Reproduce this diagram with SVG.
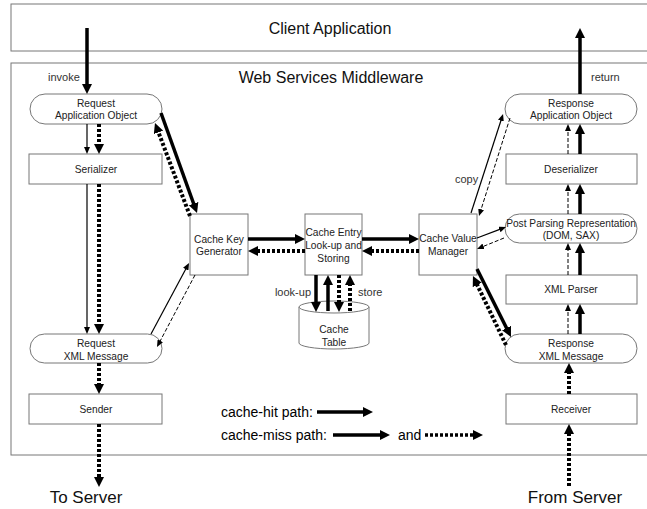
<svg xmlns="http://www.w3.org/2000/svg" width="647" height="509" viewBox="0 0 647 509">
<style>
.frame{fill:#fff;stroke:#777;stroke-width:1}
.box{fill:#fff;stroke:#777;stroke-width:1}
.t{font-family:"Liberation Sans",Arial,sans-serif;font-size:10.2px;fill:#222;text-anchor:middle}
.big{font-family:"Liberation Sans",Arial,sans-serif;font-size:16px;fill:#111;text-anchor:middle}
.lbl{font-family:"Liberation Sans",Arial,sans-serif;font-size:11px;fill:#333}
.leg{font-family:"Liberation Sans",Arial,sans-serif;font-size:14px;fill:#000}
.thick{fill:none;stroke:#000;stroke-width:3.5;marker-end:url(#hd)}
.dot{fill:none;stroke:#000;stroke-width:4;stroke-dasharray:3 2;marker-end:url(#hd)}
.thin{fill:none;stroke:#000;stroke-width:1.2;marker-end:url(#hs)}
.dash{fill:none;stroke:#000;stroke-width:1;stroke-dasharray:4 2;marker-end:url(#hs)}
</style>
<defs>
<marker id="hd" markerUnits="userSpaceOnUse" markerWidth="10" markerHeight="10" refX="2" refY="5" orient="auto" viewBox="0 0 10 10"><path d="M0,0 L10,5 L0,10 z" fill="#000"/></marker>
<marker id="hs" markerUnits="userSpaceOnUse" markerWidth="7" markerHeight="6" refX="1" refY="3" orient="auto" viewBox="0 0 7 6"><path d="M0,0 L7,3 L0,6 z" fill="#000"/></marker>
</defs>
<rect width="647" height="509" fill="#fff"/>

<g id="client">
<rect class="frame" x="11" y="4" width="645" height="47"/>
<text class="big" x="330" y="34">Client Application</text>
</g>
<g id="middleware">
<rect class="frame" x="11" y="63" width="645" height="392"/>
<text class="big" x="331" y="83">Web Services Middleware</text>
</g>

<g id="req-app-obj">
<rect class="box" x="30" y="94" width="132" height="30" rx="15" ry="15"/>
<text class="t" x="96" y="106.5">Request</text>
<text class="t" x="96" y="118.5">Application Object</text>
</g>
<g id="serializer">
<rect class="box" x="29" y="154" width="133" height="30"/>
<text class="t" x="96" y="172.5">Serializer</text>
</g>
<g id="req-xml-msg">
<rect class="box" x="30" y="334" width="132" height="29" rx="14.5" ry="14.5"/>
<text class="t" x="96" y="346.5">Request</text>
<text class="t" x="96" y="359.5">XML Message</text>
</g>
<g id="sender">
<rect class="box" x="29" y="394" width="133" height="30"/>
<text class="t" x="96" y="412.5">Sender</text>
</g>

<g id="cache-key-gen">
<rect class="box" x="190" y="214" width="58" height="61"/>
<text class="t" x="219" y="242.5">Cache Key</text>
<text class="t" x="219" y="254.5">Generator</text>
</g>
<g id="cache-entry">
<rect class="box" x="305" y="214" width="57" height="61"/>
<text class="t" x="333.5" y="235.5">Cache Entry</text>
<text class="t" x="333.5" y="248.5">Look-up and</text>
<text class="t" x="333.5" y="261.5">Storing</text>
</g>
<g id="cache-value-mgr">
<rect class="box" x="419" y="214" width="58" height="61"/>
<text class="t" x="448" y="241.5">Cache Value</text>
<text class="t" x="448" y="254.5">Manager</text>
</g>
<g id="cache-table">
<path class="box" d="M299,307 L299,343 A35,6 0 0 0 369,343 L369,307"/>
<ellipse class="box" cx="334" cy="307" rx="35" ry="6"/>
<text class="t" x="334" y="332.5">Cache</text>
<text class="t" x="334" y="345.5">Table</text>
</g>

<g id="resp-app-obj">
<rect class="box" x="505" y="94" width="132" height="30" rx="15" ry="15"/>
<text class="t" x="571" y="106.5">Response</text>
<text class="t" x="571" y="118.5">Application Object</text>
</g>
<g id="deserializer">
<rect class="box" x="506" y="154" width="131" height="30"/>
<text class="t" x="571" y="172.5">Deserializer</text>
</g>
<g id="post-parsing">
<rect class="box" x="505" y="214" width="132" height="29" rx="14.5" ry="14.5"/>
<text class="t" x="571" y="226.5">Post Parsing Representation</text>
<text class="t" x="571" y="238.5">(DOM, SAX)</text>
</g>
<g id="xml-parser">
<rect class="box" x="506" y="275" width="131" height="29"/>
<text class="t" x="571" y="293">XML Parser</text>
</g>
<g id="resp-xml-msg">
<rect class="box" x="505" y="334" width="132" height="29" rx="14.5" ry="14.5"/>
<text class="t" x="571" y="346.5">Response</text>
<text class="t" x="571" y="359.5">XML Message</text>
</g>
<g id="receiver">
<rect class="box" x="506" y="394" width="131" height="30"/>
<text class="t" x="571" y="412.5">Receiver</text>
</g>

<g id="connectors">
<line class="thick" x1="87" y1="28" x2="87" y2="86"/>
<line class="thin" x1="87" y1="124" x2="87" y2="148"/>
<line class="dot" x1="99" y1="124" x2="99" y2="146"/>
<line class="thin" x1="87" y1="184" x2="87" y2="328"/>
<line class="dot" x1="99" y1="184" x2="99" y2="326"/>
<line class="dot" x1="99" y1="363" x2="99" y2="386"/>
<line class="dot" x1="99" y1="424" x2="99" y2="479"/>
<line class="thick" x1="161" y1="113" x2="194.3" y2="205.5"/>
<line class="dot" x1="190" y1="216" x2="157.8" y2="130.5"/>
<line class="thin" x1="151" y1="334" x2="186.2" y2="268.3"/>
<line class="dash" x1="195" y1="275" x2="159.8" y2="341.7"/>
<line class="thick" x1="248" y1="239" x2="297" y2="239"/>
<line class="dot" x1="305" y1="251" x2="256" y2="251"/>
<line class="thick" x1="362" y1="239" x2="411" y2="239"/>
<line class="dot" x1="419" y1="251" x2="370" y2="251"/>
<line class="thick" x1="316" y1="275" x2="316" y2="304"/>
<line class="thick" x1="328" y1="311" x2="328" y2="283"/>
<line class="dot" x1="339" y1="275" x2="339" y2="304"/>
<line class="dot" x1="350" y1="311" x2="350" y2="283"/>
<line class="thin" x1="471" y1="213" x2="501.2" y2="119.7"/>
<line class="dash" x1="510" y1="118" x2="480.8" y2="210.3"/>
<line class="thin" x1="477" y1="238" x2="500.4" y2="229.1"/>
<line class="dash" x1="504" y1="238" x2="482.6" y2="246.7"/>
<line class="dot" x1="506" y1="345" x2="476.4" y2="283.2"/>
<line class="thick" x1="477" y1="269" x2="507.4" y2="329.8"/>
<line class="dash" x1="568" y1="334" x2="568" y2="310"/>
<line class="thick" x1="580" y1="334" x2="580" y2="312"/>
<line class="dash" x1="568" y1="275" x2="568" y2="249"/>
<line class="thick" x1="580" y1="275" x2="580" y2="251"/>
<line class="dash" x1="568" y1="214" x2="568" y2="190"/>
<line class="thick" x1="580" y1="214" x2="580" y2="192"/>
<line class="dash" x1="568" y1="154" x2="568" y2="130"/>
<line class="thick" x1="580" y1="154" x2="580" y2="132"/>
<line class="thick" x1="580" y1="94" x2="580" y2="36"/>
<line class="dot" x1="569" y1="394" x2="569" y2="371"/>
<line class="dot" x1="569" y1="486" x2="569" y2="432"/>
</g>

<g id="labels">
<text class="lbl" x="48" y="81">invoke</text>
<text class="lbl" x="591" y="81">return</text>
<text class="lbl" x="311" y="296" text-anchor="end">look-up</text>
<text class="lbl" x="358" y="296">store</text>
<text class="lbl" x="455" y="183">copy</text>
<text class="big" x="86" y="503" style="font-size:17px">To Server</text>
<text class="big" x="575" y="503" style="font-size:17px">From Server</text>
</g>

<g id="legend">
<text class="leg" x="221" y="417">cache-hit path:</text>
<line class="thick" x1="317" y1="412" x2="365" y2="412"/>
<text class="leg" x="221" y="440">cache-miss path:</text>
<line class="thick" x1="333" y1="435" x2="382" y2="435"/>
<text class="leg" x="398" y="440">and</text>
<line class="dot" x1="425" y1="435" x2="475" y2="435" style="stroke-width:3.5"/>
</g>
</svg>
